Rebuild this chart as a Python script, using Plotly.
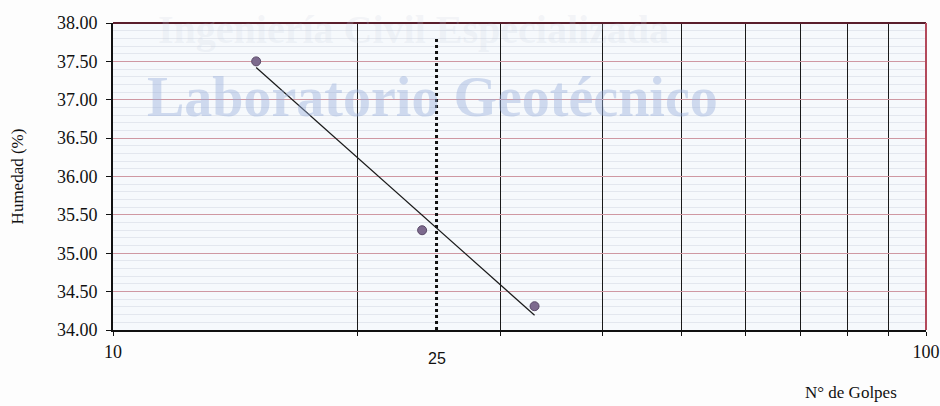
import numpy as np
import plotly.graph_objects as go

# Data
golpes = [15, 24, 33]
humedad = [37.50, 35.30, 34.31]
ref_golpes = 25
ref_line_y = [34.0, 37.8]
x_grid_vals = [10, 20, 30, 40, 50, 60, 70, 80, 90, 100]
x_tick_text = ["10", "", "", "", "", "", "", "", "", "100"]

# Logarithmic trend line (fit of humedad vs log10(golpes))
lx = np.log10(golpes)
slope, intercept = np.polyfit(lx, humedad, 1)
trend_x = [min(golpes), max(golpes)]
trend_y = [slope * np.log10(v) + intercept for v in trend_x]

minor_y = [round(v, 1) for v in np.arange(34.1, 38.0, 0.1) if abs(v * 2 - round(v * 2)) > 1e-6]

serif = "Liberation Serif, Times New Roman, serif"

fig = go.Figure()

fig.add_trace(go.Scatter(
    x=[ref_golpes, ref_golpes], y=ref_line_y, mode="lines",
    line=dict(color="#111111", width=3, dash="dot"), showlegend=False, hoverinfo="skip"))
fig.add_trace(go.Scatter(
    x=trend_x, y=trend_y, mode="lines",
    line=dict(color="#1a1a1a", width=1.2), showlegend=False))
fig.add_trace(go.Scatter(
    x=golpes, y=humedad, mode="markers",
    marker=dict(color="#7d6a8e", size=9, line=dict(color="#5a4a68", width=1)),
    showlegend=False))

fig.update_layout(
    width=940, height=406,
    margin=dict(l=113, r=14, t=23, b=76),
    paper_bgcolor="#fdfdfd",
    plot_bgcolor="#f6f9fc",
    font=dict(family=serif, size=18, color="#111111"),
    xaxis=dict(
        type="log", range=[1, 2], automargin=False,
        tickvals=x_grid_vals, ticktext=x_tick_text,
        showgrid=True, gridcolor="#1a1a1a", gridwidth=1.3,
        ticks="outside", ticklen=4, tickcolor="#111111",
        showline=True, linecolor="#111111", linewidth=2,
        zeroline=False, tickfont=dict(family=serif, size=18),
    ),
    yaxis=dict(
        range=[34, 38], dtick=0.5, tickformat=".2f", automargin=False,
        showgrid=True, gridcolor="#cf98a2", gridwidth=1,
        minor=dict(tickvals=minor_y, showgrid=True, gridcolor="#e3e7ee", gridwidth=1, ticks=""),
        ticks="outside", ticklen=5, tickcolor="#111111", ticklabelstandoff=5,
        showline=True, linecolor="#111111", linewidth=2,
        zeroline=False, tickfont=dict(family=serif, size=18),
    ),
    shapes=[
        dict(type="line", xref="paper", yref="paper", x0=0, x1=1, y0=1, y1=1,
             line=dict(color="#5a1e2c", width=2)),
        dict(type="line", xref="paper", yref="paper", x0=1, x1=1, y0=0, y1=1,
             line=dict(color="#b34a5c", width=2)),
    ],
    annotations=[
        dict(text="<b>Laboratorio Geotécnico</b>", xref="paper", yref="paper",
             x=0.393, y=0.76, xanchor="center", yanchor="middle", showarrow=False,
             font=dict(family=serif, size=56, color="rgba(150,175,220,0.42)")),
        dict(text="<b>Ingeniería Civil Especializada</b>", xref="paper", yref="paper",
             x=0.37, y=0.98, xanchor="center", yanchor="middle", showarrow=False,
             font=dict(family=serif, size=40, color="rgba(200,208,225,0.2)")),
        dict(text="Humedad (%)", xref="paper", yref="paper", textangle=-90,
             x=-0.117, y=0.5, xanchor="center", yanchor="middle", showarrow=False,
             font=dict(family=serif, size=17)),
        dict(text="25", xref="paper", yref="paper",
             x=(np.log10(ref_golpes) - 1), y=-0.092, xanchor="center", yanchor="middle",
             showarrow=False, font=dict(family="Liberation Sans, Arial, sans-serif", size=16)),
        dict(text="N° de Golpes", xref="paper", yref="paper",
             x=0.908, y=-0.202, xanchor="center", yanchor="middle",
             showarrow=False, font=dict(family=serif, size=17)),
    ],
)

fig.write_html("out.html", config={"displayModeBar": False},
               post_script="document.body.style.margin='0';document.body.style.overflow='hidden';")
